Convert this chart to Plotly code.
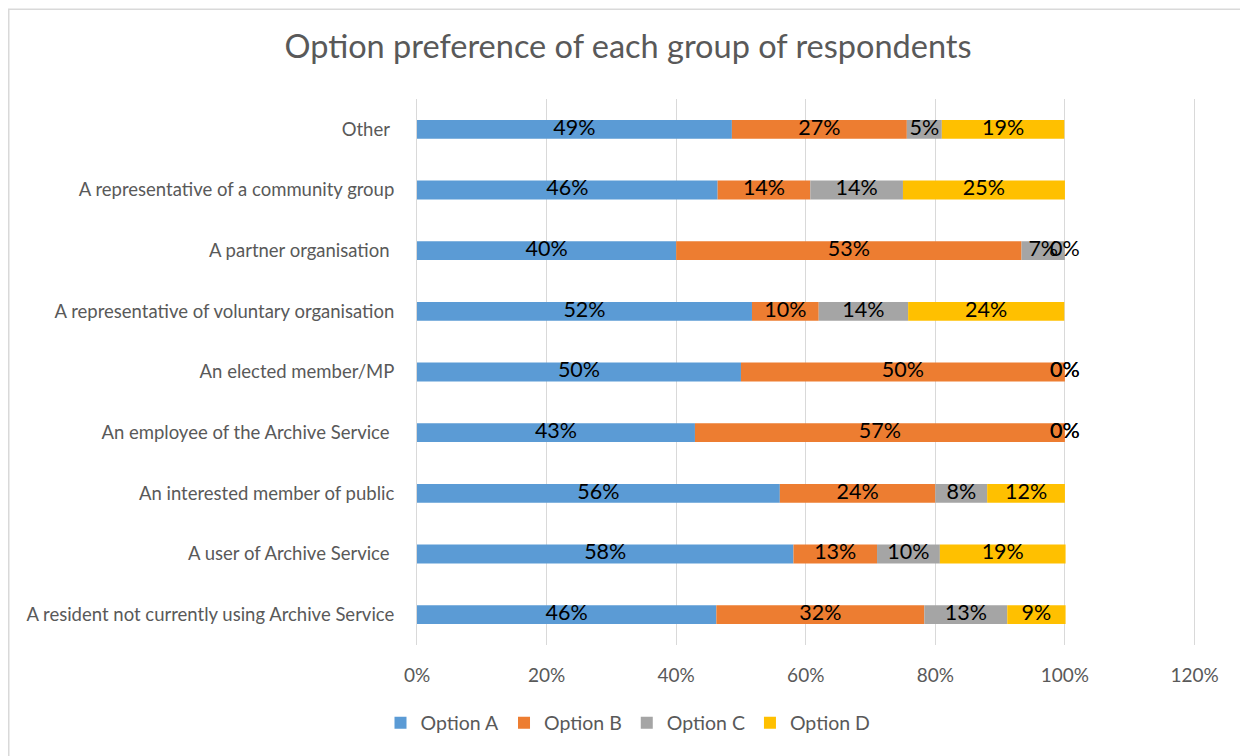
import plotly.graph_objects as go

categories = [
    "A resident not currently using Archive Service",
    "A user of Archive Service ",
    "An interested member of public",
    "An employee of the Archive Service ",
    "An elected member/MP",
    "A representative of voluntary organisation",
    "A partner organisation ",
    "A representative of a community group",
    "Other ",
]
option_a = [46.2, 58.1, 56.0, 42.9, 50.0, 51.7, 40.0, 46.4, 48.6]
option_b = [32.1, 12.9, 24.0, 57.1, 50.0, 10.3, 53.3, 14.3, 27.0]
option_c = [12.8, 9.7, 8.0, 0.0, 0.0, 13.8, 6.7, 14.3, 5.4]
option_d = [9.0, 19.4, 12.0, 0.0, 0.0, 24.1, 0.0, 25.0, 18.9]
series_names = ["Option A", "Option B", "Option C", "Option D"]
series_values = [option_a, option_b, option_c, option_d]
colors = ["#5B9BD5", "#ED7D31", "#A5A5A5", "#FFC000"]
x_ticks = [0, 20, 40, 60, 80, 100, 120]
x_tick_labels = ["0%", "20%", "40%", "60%", "80%", "100%", "120%"]

FONT = "Lato"
W, H = 1240, 748
ML, MR, MT, MB = 409, 47, 90.6, 110.6
PW, PH = W - ML - MR, H - MT - MB

fig = go.Figure()
base = [0.0] * len(categories)
label_x, label_y, label_t = [], [], []
for name, vals, col in zip(series_names, series_values, colors):
    fig.add_trace(go.Bar(
        y=categories, x=vals, base=base, name=name, orientation="h",
        marker=dict(color=col, line=dict(width=0)),
        hoverinfo="x+y+name",
    ))
    for i, v in enumerate(vals):
        label_x.append(base[i] + v / 2)
        label_y.append(categories[i])
        label_t.append(f"{round(v)}%")
    base = [b + v for b, v in zip(base, vals)]

fig.add_trace(go.Scatter(
    x=label_x, y=label_y, text=label_t, mode="text",
    textposition="middle center",
    textfont=dict(family=FONT, size=21.5, color="#000000"),
    showlegend=False, hoverinfo="skip",
))

fig.update_layout(
    barmode="overlay",
    bargap=0.69,
    width=W, height=H,
    margin=dict(l=ML, r=MR, t=MT, b=MB, pad=0),
    paper_bgcolor="white", plot_bgcolor="white",
    font=dict(family=FONT, color="#595959"),
    title=dict(
        text="Option preference of each group of respondents",
        x=0.5, xref="container", xanchor="center",
        y=1 - 39 / H, yref="container", yanchor="middle",
        font=dict(family=FONT, size=32.5, color="#595959"),
    ),
    legend=dict(
        orientation="h", xref="container", x=0.5, xanchor="center",
        yref="container", y=1 - 715 / H, yanchor="middle",
        font=dict(family=FONT, size=19.5, color="#595959"),
        traceorder="normal", itemwidth=30,
    ),
    xaxis=dict(
        range=[0, 121], tickvals=x_ticks, ticktext=x_tick_labels,
        showgrid=True, gridcolor="#D9D9D9", gridwidth=1,
        zeroline=False, showline=False, ticks="",
        tickfont=dict(family=FONT, size=19, color="#595959"),
        ticklabelstandoff=17, fixedrange=True,
    ),
    yaxis=dict(
        categoryorder="array", categoryarray=categories,
        showgrid=False, zeroline=False,
        showline=True, linecolor="#D9D9D9", linewidth=1,
        ticks="", tickfont=dict(family=FONT, size=18.5, color="#595959"),
        ticklabelstandoff=18, fixedrange=True,
    ),
    shapes=[dict(
        type="rect", xref="paper", yref="paper",
        x0=(0.75 - ML) / PW, x1=(W + 20 - ML) / PW,
        y0=-(H + 20 - (H - MB)) / PH, y1=1 + (MT - 0.75) / PH,
        line=dict(color="#D9D9D9", width=1.5), fillcolor="rgba(0,0,0,0)",
        layer="below",
    )],
)

fig.write_html("out.html")
